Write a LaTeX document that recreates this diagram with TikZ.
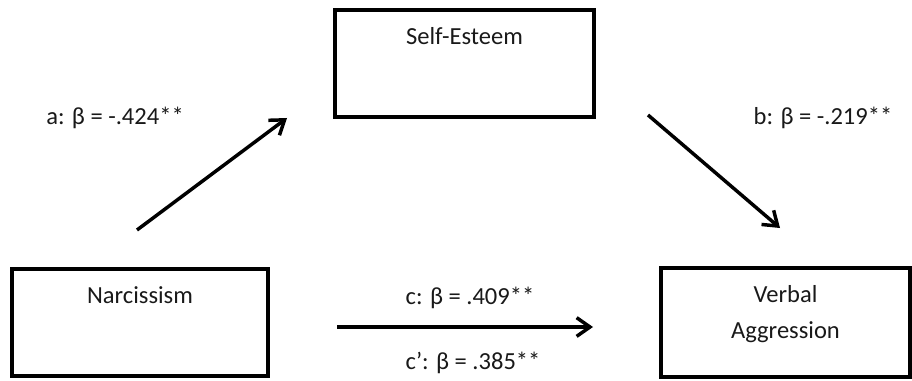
\documentclass[tikz,border=0pt]{standalone}
\usepackage{fontspec}
\setmainfont{Carlito}
\usetikzlibrary{arrows.meta}

\tikzset{
  box/.style={draw=black, line width=2.3pt, inner sep=0pt, outer sep=0pt, rectangle},
  txt/.style={anchor=base, inner sep=0pt, font=\fontsize{18.4}{22}\selectfont, text=black!90},
  path arrow/.style={line width=2.6pt, -{Straight Barb[length=10pt, width=14pt, line width=2.6pt]}}
}

\begin{document}
\begin{tikzpicture}[x=0.75pt, y=-0.75pt]
  \useasboundingbox (0,0) rectangle (912,381);

  % variable boxes
  \node[box, minimum width=194.25pt, minimum height=80.25pt] (esteem) at (464.5,63.5) {};
  \node[box, minimum width=192pt, minimum height=80.25pt] (narc) at (140,322.5) {};
  \node[box, minimum width=186.75pt, minimum height=81.75pt] (verbal) at (785.5,322.5) {};

  % box titles
  \node[txt] (esteemtxt) at (464.5,45) {Self-Esteem};
  \node[txt] (narctxt) at (140,303) {Narcissism};
  \node[txt] (verbaltxt1) at (785.5,302) {Verbal};
  \node[txt] (verbaltxt2) at (785.5,338) {Aggression};

  % path end points
  \coordinate (a1) at (137,230);
  \coordinate (a2) at (287,118);
  \coordinate (b1) at (648,115);
  \coordinate (b2) at (780,228);
  \coordinate (c1) at (337,327);
  \coordinate (c2) at (593,327);

  % paths
  \draw[path arrow] (a1) -- (a2);
  \draw[path arrow] (b1) -- (b2);
  \draw[path arrow] (c1) -- (c2);

  % path coefficients
  \node[txt] (alab) at (115,124) {a: β = -.424**};
  \node[txt] (blab) at (823,125) {b: β = -.219**};
  \node[txt] (clab) at (470,304) {c: β = .409**};
  \node[txt] (cplab) at (473,369) {c’: β = .385**};
\end{tikzpicture}
\end{document}
